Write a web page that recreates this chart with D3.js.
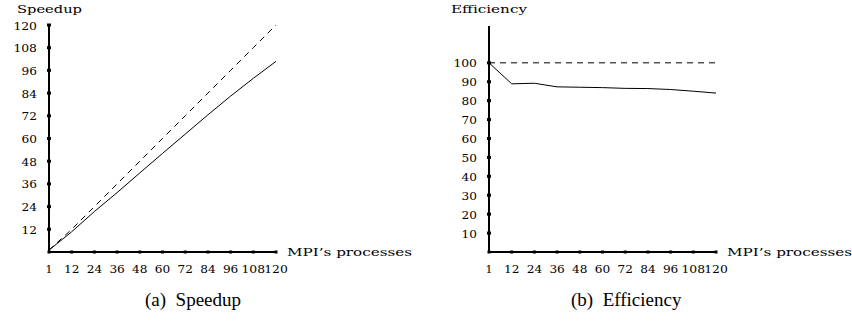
<!DOCTYPE html>
<html>
<head>
<meta charset="utf-8">
<script src="https://cdn.jsdelivr.net/npm/d3@7"></script>
<style>
  body { margin: 0; background: #fff; }
</style>
</head>
<body>
<svg width="852" height="324" font-family="'Liberation Serif', 'Times New Roman', 'DejaVu Serif', serif"></svg>
<script>
const processes = [1, 12, 24, 36, 48, 60, 72, 84, 96, 108, 120];
const speedup = [1, 10.7, 21.4, 31.4, 41.8, 52.1, 62.3, 72.5, 82.4, 91.8, 100.8];
const efficiency = [100, 88.9, 89.2, 87.3, 87.1, 86.9, 86.5, 86.4, 85.9, 85.0, 84.0];
const speedupTicks = [12, 24, 36, 48, 60, 72, 84, 96, 108, 120];
const efficiencyTicks = [10, 20, 30, 40, 50, 60, 70, 80, 90, 100];

const svg = d3.select("svg");
const tickFont = "'DejaVu Serif', 'Liberation Serif', serif";

// wide, computer-modern-ish look: stretch text to measured widths
function label(g, x, y, txt, anchor, width) {
  return g.append("text").attr("x", x).attr("y", y)
    .attr("text-anchor", anchor).attr("font-size", 11)
    .attr("font-family", tickFont)
    .attr("textLength", width).attr("lengthAdjust", "spacingAndGlyphs")
    .text(txt);
}

function drawPanel(opt) {
  const g = svg.append("g");
  const x = d3.scalePoint().domain(processes).range([opt.left, opt.left + 227]);
  const y = d3.scaleLinear().domain([0, opt.yMax]).range([252, 25]);

  g.append("line").attr("x1", opt.left).attr("x2", opt.left)
    .attr("y1", 252).attr("y2", opt.axisTop)
    .attr("stroke", "#000").attr("stroke-width", 2);
  g.append("line").attr("x1", opt.left).attr("x2", opt.left + 227)
    .attr("y1", 252).attr("y2", 252)
    .attr("stroke", "#000").attr("stroke-width", 2);

  opt.yTicks.forEach(t => {
    g.append("rect").attr("x", opt.left - 2).attr("y", y(t) - 1.5)
      .attr("width", 4).attr("height", 3).attr("fill", "#000");
    const s = String(t);
    label(g, opt.left - 12, y(t) + 4.5, s, "end", s.length * 8.2 - 1);
  });

  processes.forEach(p => {
    g.append("rect").attr("x", x(p) - 1.5).attr("y", 250.5)
      .attr("width", 3).attr("height", 3).attr("fill", "#000");
    const s = String(p);
    if (s.length > 1) label(g, x(p), 273, s, "middle", s.length * 8.2 - 1);
    else g.append("text").attr("x", x(p)).attr("y", 273)
      .attr("text-anchor", "middle").attr("font-size", 11)
      .attr("font-family", tickFont).text(s);
  });

  label(g, opt.left + 238, 256, "MPI\u2019s processes", "start", 125);
  label(g, opt.titleX, 13, opt.yLabel, "start", opt.titleW);

  const line = d3.line().x(d => x(d[0])).y(d => y(d[1]));

  g.append("path").datum(opt.ideal)
    .attr("d", line).attr("fill", "none").attr("stroke", "#000")
    .attr("stroke-width", 1).attr("stroke-dasharray", "6,5");
  g.append("path").datum(processes.map((p, i) => [p, opt.values[i]]))
    .attr("d", line).attr("fill", "none").attr("stroke", "#000")
    .attr("stroke-width", 1);

  svg.append("text").attr("x", opt.captionX).attr("y", 306)
    .attr("text-anchor", "start").attr("font-size", 19)
    .attr("font-family", "'Liberation Serif', 'Times New Roman', serif")
    .text(opt.caption);
}

drawPanel({
  left: 49, yMax: 120, axisTop: 25, yTicks: speedupTicks,
  values: speedup, ideal: processes.map(p => [p, p]),
  yLabel: "Speedup", titleX: 17, titleW: 65,
  caption: "(a)\u00a0 Speedup", captionX: 145
});

drawPanel({
  left: 489, yMax: 120, axisTop: 26, yTicks: efficiencyTicks,
  values: efficiency, ideal: [[1, 100], [120, 100]],
  yLabel: "Efficiency", titleX: 451, titleW: 76,
  caption: "(b)\u00a0 Efficiency", captionX: 571
});
</script>
</body>
</html>
